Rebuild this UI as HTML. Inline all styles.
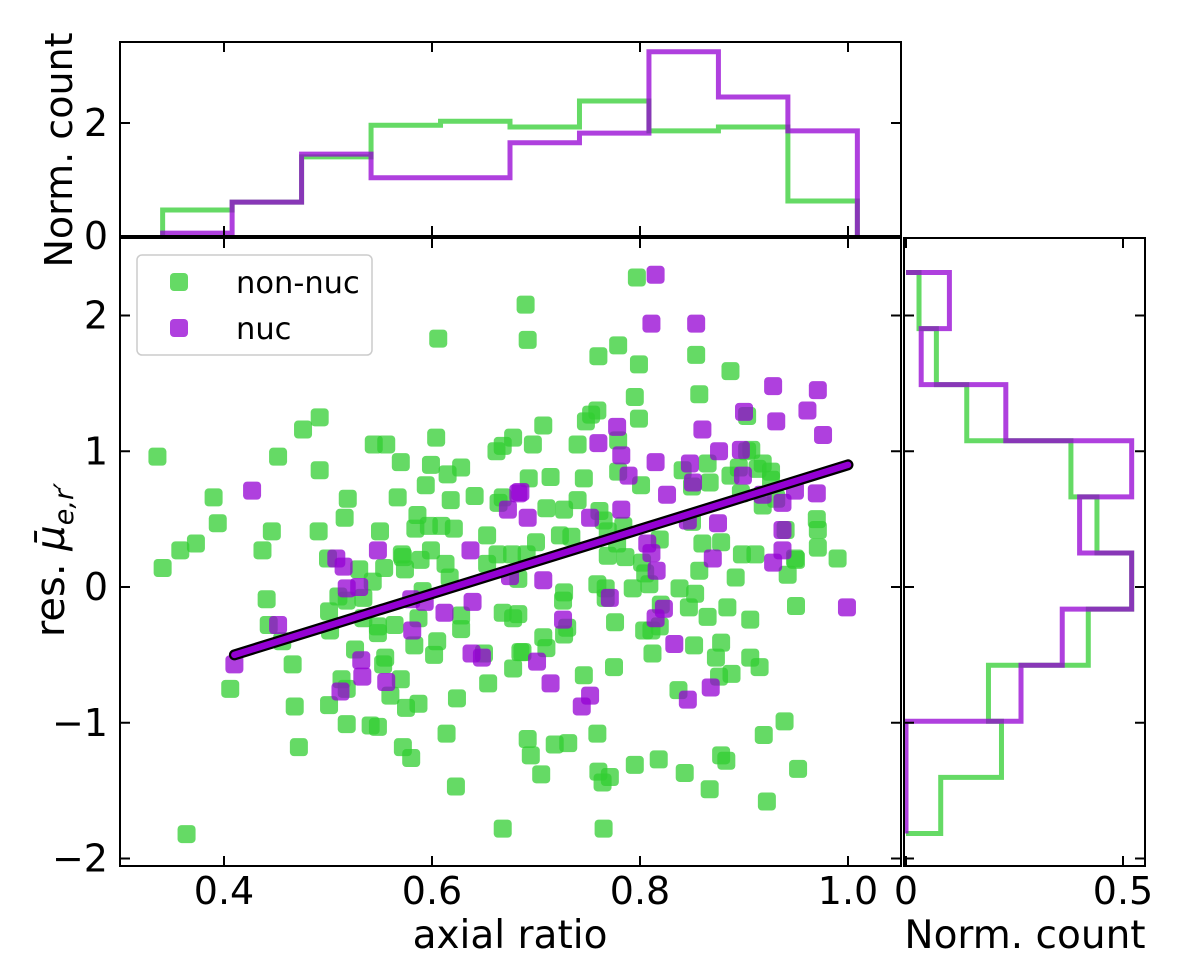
<!DOCTYPE html>
<html><head><meta charset="utf-8"><style>
html,body{margin:0;padding:0;background:#fff;}
svg text{font-family:"DejaVu Sans","Liberation Sans",sans-serif;fill:#000;}
</style></head><body>
<svg id="chart" xmlns="http://www.w3.org/2000/svg" width="1200" height="960" viewBox="0 0 1200 960">
<g id="top-hist"></g>
<g id="right-hist"></g>
<g id="main"></g>
<g id="texts">
<text x="510" y="948" font-size="39" text-anchor="middle">axial ratio</text>
<text x="1025" y="948" font-size="39" text-anchor="middle">Norm. count</text>
<text transform="translate(72,150) rotate(-90)" font-size="38" text-anchor="middle">Norm. count</text>
<text transform="translate(64,560) rotate(-90)" font-size="40" text-anchor="middle">res. <tspan font-style="italic">μ̄</tspan><tspan font-size="27" font-style="italic" dy="9">e,r′</tspan></text>
</g>
<g>
<rect x="137" y="255" width="235" height="100" rx="5" fill="#fff" fill-opacity="0.8" stroke="#ccc" stroke-width="1.5"/>
<rect x="170" y="273" width="18" height="18" rx="4" fill="#32cd32" fill-opacity="0.75"/>
<text x="236" y="293" font-size="30.5">non-nuc</text>
<rect x="170" y="319" width="18" height="18" rx="4" fill="#9400d3" fill-opacity="0.75"/>
<text x="236" y="339" font-size="30.5">nuc</text>
</g>
</svg>
<script>
const greenX=[.336,.358,.373,.390,.394,.437,.446,.452,.476,.492,.492,.491,.519,.516,.544,.556,.570,.567,.550,.571,.586,.584,.597,.609,.621,.594,.599,.615,.628,.604,.618,.641,.653,.664,.662,.668,.678,.606,.599,.663,.677,.797,.690,.692,.760,.779,.799,.854,.887,.857,.795,.799,.753,.759,.748,.707,.697,.740,.779,.903,.907,.903,.865,.841,.867,.850,.779,.801,.746,.714,.693,.895,.887,.913,.918,.926,.926,.897,.918,.931,.710,.727,.740,.761,.765,.784,.769,.778,.819,.723,.734,.700,.850,.860,.878,.970,.971,.971,.940,.898,.911,.949,.990,.668,.769,.786,.341,.500,.530,.543,.554,.572,.574,.589,.613,.653,.617,.441,.443,.456,.466,.406,.468,.472,.364,.501,.502,.510,.518,.534,.534,.548,.548,.564,.526,.555,.553,.513,.518,.570,.560,.501,.518,.541,.548,.575,.587,.587,.583,.591,.605,.602,.628,.628,.650,.654,.624,.668,.678,.678,.614,.572,.580,.623,.668,.685,.691,.802,.805,.809,.793,.759,.767,.767,.727,.726,.683,.683,.730,.727,.707,.710,.687,.776,.775,.746,.820,.819,.811,.804,.812,.838,.853,.847,.852,.857,.865,.884,.878,.873,.876,.888,.906,.906,.915,.892,.942,.950,.950,.837,.939,.919,.692,.695,.718,.731,.759,.705,.760,.771,.764,.795,.818,.843,.878,.883,.952,.867,.922,.765];
const greenY=[.96,.27,.32,.66,.47,.27,.41,.96,1.16,1.25,.86,.41,.65,.51,1.05,1.05,.92,.66,.41,.24,.53,.43,.45,.45,.43,.75,.90,.83,.88,1.10,.64,.67,.38,.62,1.00,1.04,1.10,1.83,.27,.24,.24,2.28,2.08,1.82,1.70,1.78,1.64,1.71,1.59,1.42,1.40,1.24,1.27,1.30,1.22,1.19,1.05,1.05,1.08,1.26,1.01,1.00,.91,.86,.77,.74,.85,.75,.80,.81,.80,.88,.82,.87,.91,.85,.79,.69,.60,.65,.58,.57,.64,.56,.49,.45,.41,.32,.35,.38,.37,.33,.48,.32,.33,.50,.42,.29,.42,.24,.24,.21,.21,.66,.23,.22,.14,.21,.13,.04,.14,.22,.13,.20,.17,.17,.07,-.09,-.28,-.40,-.57,-.75,-.88,-1.18,-1.82,-.18,-.32,-.07,-.10,-.08,-.23,-.29,-.34,-.28,-.46,-.52,-.57,-.68,-.75,-.68,-.80,-.87,-1.01,-1.02,-1.03,-.89,-.86,-.23,-.43,-.03,-.40,-.50,-.21,-.31,-.49,-.71,-.82,-.19,-.23,-.60,-1.08,-1.18,-1.26,-1.47,-1.78,-.48,.24,.18,.10,.02,-.01,.02,-.01,-.08,-.04,-.10,.06,-.20,-.30,-.35,-.37,-.45,-.48,-.26,-.59,-.65,-.13,-.29,-.32,-.32,-.49,-.01,-.05,-.15,-.43,.12,-.22,-.15,-.41,-.52,-.66,-.64,-.24,-.52,-.59,.07,.09,.20,-.14,-.76,-.99,-1.09,-1.12,-1.24,-1.16,-1.15,-1.08,-1.38,-1.36,-1.40,-1.44,-1.31,-1.27,-1.37,-1.24,-1.28,-1.34,-1.49,-1.58,-1.78];
const nucX=[.427,.673,.683,.508,.548,.637,.815,.811,.854,.928,.971,.900,.961,.931,.976,.778,.760,.860,.782,.876,.897,.815,.848,.789,.851,.899,.826,.685,.692,.752,.782,.875,.937,.949,.970,.937,.846,.807,.811,.937,.870,.918,.410,.452,.515,.518,.530,.532,.533,.556,.512,.581,.580,.593,.612,.639,.638,.648,.675,.707,.771,.726,.701,.714,.752,.744,.816,.823,.815,.833,.928,.868,.846,.999];
const nucY=[.71,.57,.69,.21,.27,.27,2.30,1.94,1.94,1.48,1.45,1.29,1.30,1.22,1.12,1.18,1.06,1.16,.97,1.00,1.01,.92,.91,.82,.77,.82,.68,.70,.51,.51,.57,.47,.62,.71,.69,.42,.49,.32,.25,.27,.21,.68,-.57,-.28,.15,-.01,.00,-.54,-.66,-.70,-.77,-.32,-.09,-.11,-.19,-.11,-.49,-.52,.08,.05,-.08,-.24,-.55,-.71,-.80,-.88,.12,-.16,-.23,-.42,.18,-.74,-.83,-.15];
const fitX=[0.41,1.0];
const fitY=[-0.5,0.9];
const topBinStart=0.341, topBinWidth=0.0668;
const topGreen=[0.46,0.60,1.40,1.96,2.03,1.93,2.39,1.86,1.93,0.62];
const topNuc=[0.05,0.60,1.45,1.03,1.03,1.65,1.82,3.26,2.46,1.86];
const rightBinStart=-1.816, rightBinWidth=0.4133;
const rightGreen=[0.08,0.22,0.19,0.42,0.52,0.44,0.38,0.14,0.07,0.03];
const rightNuc=[0,0,0.265,0.36,0.52,0.40,0.52,0.23,0.035,0.10];
const xTicks=[0.4,0.6,0.8,1.0];
const xTickLabels=["0.4","0.6","0.8","1.0"];
const yTicks=[-2,-1,0,1,2];
const yTickLabels=["\u22122","\u22121","0","1","2"];
const topYTicks=[0,2];
const topYTickLabels=["0","2"];
const rightXTicks=[0,0.5];
const rightXTickLabels=["0","0.5"];

const NS="http://www.w3.org/2000/svg";
const xs=v=>224+(v-0.4)*1040;
const ys=v=>587-v*135.75;
const yt=v=>236-v*56.5;
const xr=v=>906+v*434;
function mk(tag,attrs,parent){const e=document.createElementNS(NS,tag);for(const k in attrs)e.setAttribute(k,attrs[k]);parent.appendChild(e);return e;}
const mainG=document.getElementById('main'),topG=document.getElementById('top-hist'),rightG=document.getElementById('right-hist');

const nG=Math.min(greenX.length,greenY.length);
for(let i=0;i<nG;i++){const r=mk('rect',{x:xs(greenX[i])-9,y:ys(greenY[i])-9,width:18,height:18,rx:4,fill:'#32cd32','fill-opacity':0.75},mainG);

}
const nN=Math.min(nucX.length,nucY.length);
for(let i=0;i<nN;i++){const r=mk('rect',{x:xs(nucX[i])-9,y:ys(nucY[i])-9,width:18,height:18,rx:4,fill:'#9400d3','fill-opacity':0.75},mainG);

}
let l1=mk('line',{x1:xs(fitX[0]),y1:ys(fitY[0]),x2:xs(fitX[1]),y2:ys(fitY[1]),stroke:'#000','stroke-width':11,'stroke-linecap':'round'},mainG);


let l2=mk('line',{x1:xs(fitX[0]),y1:ys(fitY[0]),x2:xs(fitX[1]),y2:ys(fitY[1]),stroke:'#9400d3','stroke-width':6.5,'stroke-linecap':'round'},mainG);



function topPath(vals){let d=`M${xs(topBinStart)},${yt(0)}`;vals.forEach((v,i)=>{d+=`L${xs(topBinStart+i*topBinWidth)},${yt(v)}L${xs(topBinStart+(i+1)*topBinWidth)},${yt(v)}`;});d+=`L${xs(topBinStart+vals.length*topBinWidth)},${yt(0)}`;return d;}
let tg=mk('path',{d:topPath(topGreen),fill:'none',stroke:'#32cd32','stroke-opacity':0.75,'stroke-width':5},topG);


let tn=mk('path',{d:topPath(topNuc),fill:'none',stroke:'#9400d3','stroke-opacity':0.75,'stroke-width':5},topG);


function rightPath(vals){let d=`M${xr(0)},${ys(rightBinStart)}`;vals.forEach((v,i)=>{d+=`L${xr(v)},${ys(rightBinStart+i*rightBinWidth)}L${xr(v)},${ys(rightBinStart+(i+1)*rightBinWidth)}`;});d+=`L${xr(0)},${ys(rightBinStart+vals.length*rightBinWidth)}`;return d;}
let rg=mk('path',{d:rightPath(rightGreen),fill:'none',stroke:'#32cd32','stroke-opacity':0.75,'stroke-width':5},rightG);


let rn=mk('path',{d:rightPath(rightNuc),fill:'none',stroke:'#9400d3','stroke-opacity':0.75,'stroke-width':5},rightG);



const svg=document.getElementById('chart');
const frames=[[120,238,781,628,'main-frame'],[120,42,781,194,'top-frame'],[904,238,241,628,'right-frame']];
frames.forEach(f=>{const r=mk('rect',{x:f[0],y:f[1],width:f[2],height:f[3],fill:'none',stroke:'#000','stroke-width':2},svg);

});
function tick(x1,y1,x2,y2){const t=mk('line',{x1,y1,x2,y2,stroke:'#000','stroke-width':2},svg);

}
function label(txt,x,y,anchor){const t=mk('text',{x,y,'font-size':38,'text-anchor':anchor},svg);t.textContent=txt;

}
xTicks.forEach((v,i)=>{const x=xs(v);tick(x,866,x,856);tick(x,238,x,248);tick(x,236,x,226);tick(x,42,x,52);label(xTickLabels[i],x,904,'middle');});
yTicks.forEach((v,i)=>{const y=ys(v);tick(120,y,130,y);tick(901,y,891,y);tick(904,y,914,y);tick(1145,y,1135,y);label(yTickLabels[i],108,y+13,'end');});
topYTicks.forEach((v,i)=>{const y=yt(v);tick(120,y,130,y);tick(901,y,891,y);label(topYTickLabels[i],108,y+13,'end');});
rightXTicks.forEach((v,i)=>{const x=xr(v);tick(x,866,x,856);tick(x,238,x,248);label(rightXTickLabels[i],x,904,'middle');});
</script>
</body></html>
